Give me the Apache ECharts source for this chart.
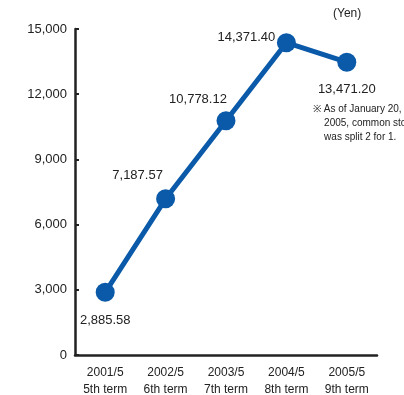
<!DOCTYPE html>
<html>
<head>
<meta charset="utf-8">
<script src="https://cdn.jsdelivr.net/npm/echarts@6/dist/echarts.min.js"></script>
<style>
  html, body { margin: 0; padding: 0; background: #fff; }
  #chart { width: 404px; height: 395px; }
</style>
</head>
<body>
<div id="chart"></div>
<script>
// Fiscal periods and share price figures (yen)
const periods = ['2001/5', '2002/5', '2003/5', '2004/5', '2005/5'];
const terms = ['5th term', '6th term', '7th term', '8th term', '9th term'];
const prices = [2885.58, 7187.57, 10778.12, 14371.40, 13471.20];
const yTicks = [0, 3000, 6000, 9000, 12000, 15000];

// Where each value label sits relative to its point
const labelOffsets = [[0, 28], [-28, -23], [-28, -21], [-40, -5], [0, 27]];

const FONT = '"Liberation Sans", Arial, sans-serif';
const BLUE = '#0a5aa9';
const INK = '#222';

const fmt = v => v.toLocaleString('en-US', { minimumFractionDigits: 2, maximumFractionDigits: 2 });

const chart = echarts.init(document.getElementById('chart'));
chart.setOption({
  animation: false,
  grid: { left: 75, right: 27, top: 29, bottom: 40, outerBoundsMode: 'none', containLabel: false },
  xAxis: {
    type: 'category',
    data: periods.map((p, i) => p + '\n' + terms[i]),
    boundaryGap: true,
    axisLine: { lineStyle: { color: INK, width: 2.5 } },
    axisTick: { show: false },
    axisLabel: { interval: 0, color: INK, fontFamily: FONT, fontSize: 12, lineHeight: 17, margin: 9 }
  },
  yAxis: {
    type: 'value',
    min: yTicks[0],
    max: yTicks[yTicks.length - 1],
    interval: 3000,
    axisLine: { show: true, lineStyle: { color: INK, width: 2.5 } },
    axisTick: { show: true, inside: true, length: 4, lineStyle: { color: INK, width: 2 } },
    splitLine: { show: false },
    axisLabel: {
      color: INK, fontFamily: FONT, fontSize: 13, margin: 8,
      formatter: v => v.toLocaleString('en-US')
    }
  },
  series: [{
    type: 'line',
    data: prices.map((v, i) => ({
      value: v,
      label: { offset: labelOffsets[i] }
    })),
    lineStyle: { color: BLUE, width: 5 },
    itemStyle: { color: BLUE },
    symbol: 'circle',
    symbolSize: 19,
    label: {
      show: true,
      position: 'inside',
      color: INK,
      fontFamily: FONT,
      fontSize: 13,
      formatter: p => fmt(p.value)
    }
  }],
  graphic: [
    {
      type: 'text', left: 333, top: 8,
      style: { text: '(Yen)', fill: INK, font: '12px ' + FONT }
    },
    {
      type: 'text', left: 313, top: 102,
      style: {
        text: '※ As of January 20,\n    2005, common stock\n    was split 2 for 1.',
        fill: INK, font: '10px ' + FONT, lineHeight: 14
      }
    }
  ]
});
</script>
</body>
</html>
